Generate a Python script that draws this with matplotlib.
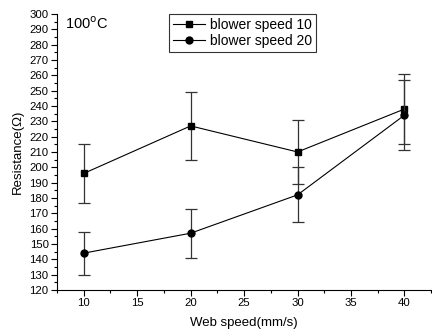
import matplotlib.pyplot as plt
from matplotlib.ticker import MultipleLocator

plt.rcParams["font.family"] = ["Liberation Sans", "DejaVu Sans"]

web_speed = [10, 20, 30, 40]
res_bs10 = [196, 227, 210, 238]
err_bs10 = [19, 22, 21, 23]
res_bs20 = [144, 157, 182, 234]
err_bs20 = [14, 16, 18, 23]


def main():
    fig = plt.figure(figsize=(4.32, 3.34), dpi=100)
    ax = fig.add_axes([0.132, 0.132, 0.866, 0.826])

    for ys, es, mk, ms, lab in [(res_bs10, err_bs10, "s", 4.5, "blower speed 10"),
                                (res_bs20, err_bs20, "o", 5, "blower speed 20")]:
        ax.errorbar(web_speed, ys, yerr=es, fmt="none", ecolor="#333333",
                    elinewidth=0.9, capsize=4, capthick=0.9)
        ax.plot(web_speed, ys, color="black", marker=mk, markersize=ms,
                linewidth=0.8, label=lab)

    ax.set_xlim(7.5, 42.5)
    ax.set_ylim(120, 300)
    ax.xaxis.set_major_locator(MultipleLocator(5))
    ax.xaxis.set_minor_locator(MultipleLocator(2.5))
    ax.yaxis.set_major_locator(MultipleLocator(10))
    ax.yaxis.set_minor_locator(MultipleLocator(5))
    ax.spines["top"].set_visible(False)
    ax.spines["right"].set_visible(False)
    ax.tick_params(which="major", length=4, width=0.8, labelsize=8.2, pad=2)
    ax.tick_params(which="minor", length=2, width=0.8)

    ax.set_xlabel("Web speed(mm/s)", fontsize=9.5, labelpad=6)
    ax.set_ylabel("Resistance(Ω)", fontsize=9.5, labelpad=4)

    ax.text(0.02, 0.995, "100$^{\\mathrm{o}}$C", transform=ax.transAxes,
            fontsize=10.5, va="top", ha="left")

    leg = ax.legend(loc="upper left", bbox_to_anchor=(0.3, 1.0), fontsize=10,
                    frameon=True, fancybox=False, edgecolor="black",
                    handlelength=2.3, handletextpad=0.3, borderpad=0.3,
                    labelspacing=0.1, borderaxespad=0)
    leg.get_frame().set_linewidth(0.8)

    fig.savefig("out.png", dpi=100)
    plt.close(fig)


if __name__ == "__main__":
    main()
